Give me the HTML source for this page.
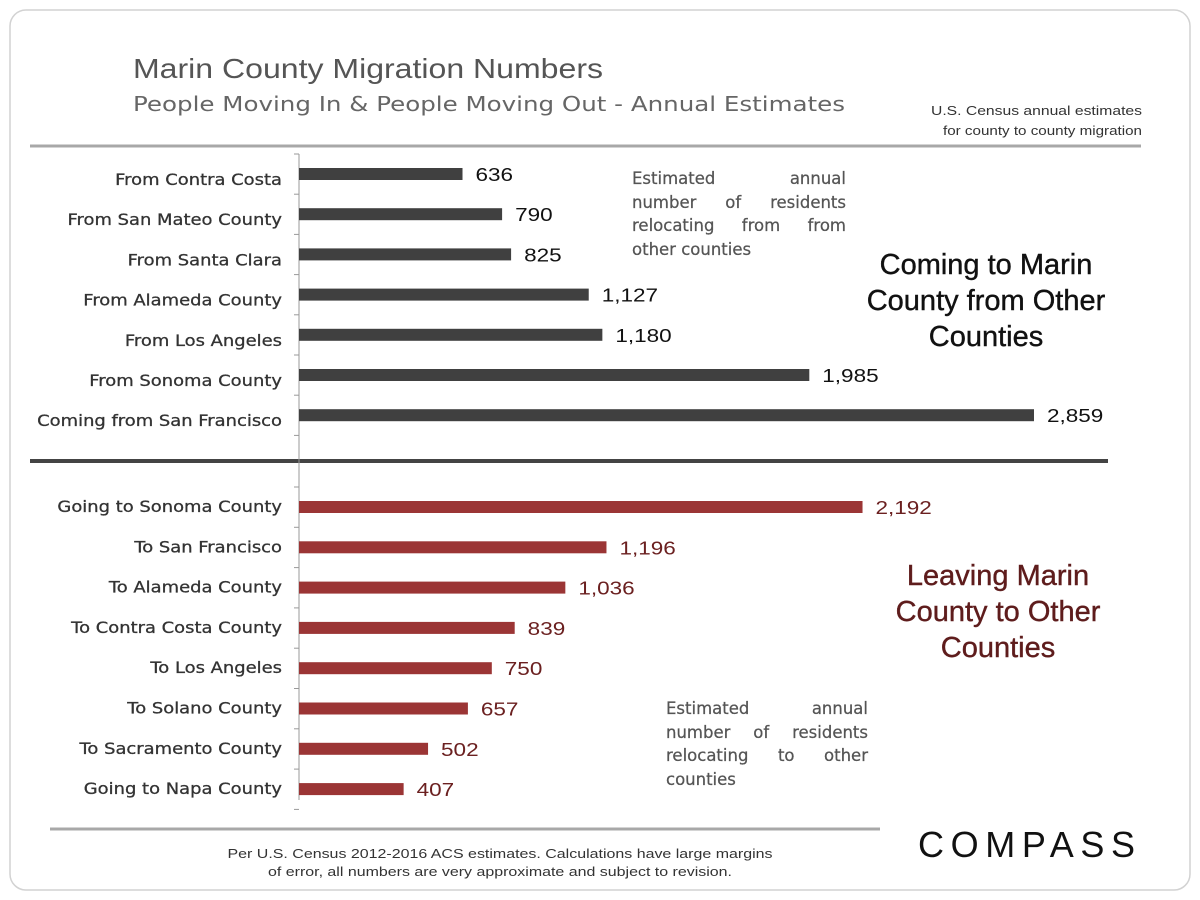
<!DOCTYPE html>
<html><head><meta charset="utf-8"><style>
html,body{margin:0;padding:0;background:#fff;}
svg{display:block;}
.lbl{font-family:"DejaVu Sans",sans-serif;font-size:16px;fill:#333;stroke:#333;stroke-width:0.3px;}
.val{font-family:"Liberation Sans",sans-serif;font-size:18px;}
.note{font-family:"DejaVu Sans",sans-serif;font-size:16.5px;fill:#555;stroke:#555;stroke-width:0.25px;}
</style></head><body>
<svg id="chart" width="1200" height="900" viewBox="0 0 1200 900">
<rect x="10" y="10" width="1180" height="880" rx="16" fill="#fff" stroke="#d2d2d2" stroke-width="1.5"/>
<text x="133" y="78" font-family="Liberation Sans Narrow, Liberation Sans, sans-serif" font-size="28" fill="#555" textLength="470" lengthAdjust="spacingAndGlyphs">Marin County Migration Numbers</text>
<text x="133" y="111" font-family="DejaVu Sans, sans-serif" font-size="20" fill="#666" textLength="712" lengthAdjust="spacingAndGlyphs">People Moving In &amp; People Moving Out - Annual Estimates</text>
<text x="1142" y="115" text-anchor="end" font-family="Liberation Sans, sans-serif" font-size="13" fill="#333" textLength="211" lengthAdjust="spacingAndGlyphs">U.S. Census annual estimates</text>
<text x="1142" y="135" text-anchor="end" font-family="Liberation Sans, sans-serif" font-size="13" fill="#333" textLength="199" lengthAdjust="spacingAndGlyphs">for county to county migration</text>
<line x1="30" y1="146" x2="1141" y2="146" stroke="#a8a8a8" stroke-width="3"/>
<line x1="30" y1="461" x2="1108" y2="461" stroke="#444" stroke-width="4"/>
<line x1="50" y1="829" x2="880" y2="829" stroke="#a8a8a8" stroke-width="3"/>
<line x1="299" y1="154" x2="299" y2="800" stroke="#999" stroke-width="1"/>
<g id="bars"></g>
<g class="note">
<text class="just" data-w="214" x="632" y="184">Estimated annual</text>
<text class="just" data-w="214" x="632" y="208">number of residents</text>
<text class="just" data-w="214" x="632" y="231">relocating from from</text>
<text x="632" y="255">other counties</text>
</g>
<g class="note">
<text class="just" data-w="202" x="666" y="714">Estimated annual</text>
<text class="just" data-w="202" x="666" y="738">number of residents</text>
<text class="just" data-w="202" x="666" y="761">relocating to other</text>
<text x="666" y="785">counties</text>
</g>
<g font-family="Liberation Sans, sans-serif" font-size="29" text-anchor="middle" fill="#111" stroke="#111" stroke-width="0.4">
<text x="986" y="274">Coming to Marin</text><text x="986" y="310">County from Other</text><text x="986" y="346">Counties</text></g>
<g font-family="Liberation Sans, sans-serif" font-size="29" text-anchor="middle" fill="#5e1c1c" stroke="#5e1c1c" stroke-width="0.4">
<text x="998" y="585">Leaving Marin</text><text x="998" y="621">County to Other</text><text x="998" y="657">Counties</text></g>
<text x="500" y="858" text-anchor="middle" font-family="Liberation Sans, sans-serif" font-size="13" fill="#333" textLength="545" lengthAdjust="spacingAndGlyphs">Per U.S. Census 2012-2016 ACS estimates. Calculations have large margins</text>
<text x="500" y="876" text-anchor="middle" font-family="Liberation Sans, sans-serif" font-size="13" fill="#333" textLength="464" lengthAdjust="spacingAndGlyphs">of error, all numbers are very approximate and subject to revision.</text>
<text x="918" y="857" font-family="Liberation Sans, sans-serif" font-size="36" fill="#111" textLength="217" lengthAdjust="spacing">COMPASS</text>
</svg>
<script>
const inLabels=["From Contra Costa","From San Mateo County","From Santa Clara","From Alameda County","From Los Angeles","From Sonoma County","Coming from San Francisco"];
const inValues=[636,790,825,1127,1180,1985,2859];
const outLabels=["Going to Sonoma County","To San Francisco","To Alameda County","To Contra Costa County","To Los Angeles","To Solano County","To Sacramento County","Going to Napa County"];
const outValues=[2192,1196,1036,839,750,657,502,407];

const X0=299, SCALE=735/2859;
function xScale(v){return X0+v*SCALE;}
function yIn(i){return 174+i*40.2;}
function yOut(i){return 507+i*40.3;}
const NS="http://www.w3.org/2000/svg";
const g=document.getElementById('bars');
function fmt(v){return v.toLocaleString('en-US');}
function draw(labels,values,yf,color,valColor,kind,labelOff){
  for(let i=0;i<=labels.length;i++){
    const t=document.createElementNS(NS,'line');
    t.setAttribute('x1',X0-5);t.setAttribute('x2',X0);
    t.setAttribute('y1',yf(i)-20);t.setAttribute('y2',yf(i)-20);
    t.setAttribute('stroke','#999');
    
    
    g.appendChild(t);
  }
  labels.forEach((lab,i)=>{
    const y=yf(i);
    const r=document.createElementNS(NS,'rect');
    r.setAttribute('x',X0);r.setAttribute('y',y-6);
    r.setAttribute('width',xScale(values[i])-X0);r.setAttribute('height',12);
    r.setAttribute('fill',color);
    
    
    g.appendChild(r);
    const l=document.createElementNS(NS,'text');
    l.setAttribute('x',282);l.setAttribute('y',y+6+labelOff);
    l.setAttribute('text-anchor','end');l.setAttribute('class','lbl');
    l.textContent=lab;
    
    
    g.appendChild(l);
    const lw=l.getComputedTextLength();
    l.setAttribute('textLength',lw*1.12);
    l.setAttribute('lengthAdjust','spacingAndGlyphs');
    const v=document.createElementNS(NS,'text');
    v.setAttribute('x',xScale(values[i])+13);v.setAttribute('y',y+7);
    v.setAttribute('class','val');v.setAttribute('fill',valColor);
    v.textContent=fmt(values[i]);
    
    
    g.appendChild(v);
    const w=v.getComputedTextLength();
    v.setAttribute('textLength',w*1.25);
    v.setAttribute('lengthAdjust','spacingAndGlyphs');
  });
}
draw(inLabels,inValues,yIn,'#404040','#111','incoming',5);
draw(outLabels,outValues,yOut,'#9b3535','#6b2020','outgoing',-1);
document.querySelectorAll('text.just').forEach(t=>{
  const target=+t.getAttribute('data-w');
  const w=t.getComputedTextLength();
  const gaps=(t.textContent.match(/ /g)||[]).length;
  if(gaps>0&&w<target) t.setAttribute('word-spacing',(target-w)/gaps);
  else if(w>target) {t.setAttribute('textLength',target);t.setAttribute('lengthAdjust','spacingAndGlyphs');}
});
</script>
</body></html>
